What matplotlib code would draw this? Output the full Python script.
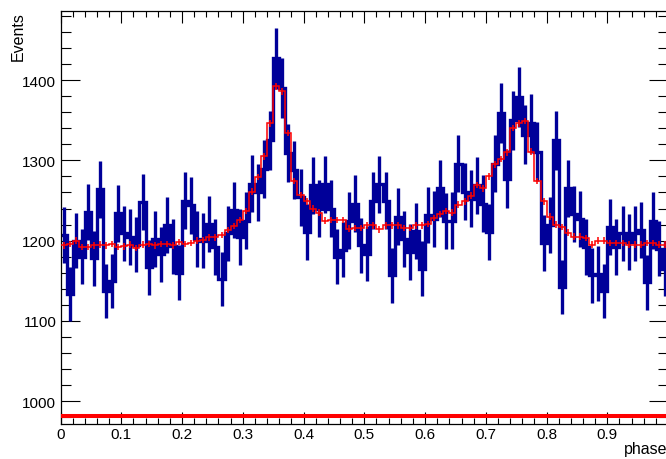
import numpy as np
import matplotlib
matplotlib.use("Agg")
import matplotlib.pyplot as plt
from matplotlib.ticker import MultipleLocator

plt.rcParams['font.family'] = ['Liberation Sans', 'DejaVu Sans']

# phase binning: 100 bins on [0, 1]
n_bins = 100
bin_edges = np.linspace(0.0, 1.0, n_bins + 1)
bin_centers = 0.5 * (bin_edges[:-1] + bin_edges[1:])

counts = [1207, 1134, 1200, 1180, 1236, 1178, 1264, 1137, 1150, 1234,
          1209, 1205, 1195, 1248, 1167, 1202, 1183, 1219, 1193, 1160,
          1250, 1244, 1202, 1200, 1221, 1192, 1152, 1209, 1238, 1205,
          1225, 1271, 1260, 1289, 1325, 1427, 1390, 1309, 1288, 1254,
          1211, 1269, 1240, 1270, 1240, 1180, 1189, 1225, 1246, 1194,
          1184, 1250, 1270, 1250, 1157, 1230, 1202, 1186, 1212, 1165,
          1232, 1227, 1265, 1224, 1225, 1296, 1261, 1252, 1269, 1246,
          1211, 1296, 1359, 1277, 1350, 1379, 1332, 1346, 1311, 1197,
          1219, 1325, 1142, 1265, 1233, 1227, 1192, 1157, 1159, 1137,
          1217, 1192, 1209, 1198, 1209, 1213, 1148, 1225, 1190, 1165]

# model / template (red)
model = [1194, 1196, 1200, 1192, 1192, 1194, 1195, 1194, 1196, 1192,
         1193, 1195, 1191, 1195, 1196, 1194, 1196, 1196, 1194, 1198,
         1196, 1197, 1200, 1201, 1204, 1204, 1207, 1213, 1218, 1226,
         1237, 1261, 1279, 1305, 1346, 1392, 1386, 1334, 1274, 1257,
         1249, 1240, 1235, 1225, 1226, 1226, 1226, 1215, 1216, 1216,
         1219, 1219, 1214, 1219, 1219, 1219, 1216, 1216, 1219, 1219,
         1221, 1228, 1233, 1237, 1235, 1245, 1249, 1256, 1269, 1265,
         1280, 1295, 1302, 1310, 1340, 1346, 1349, 1311, 1274, 1249,
         1230, 1220, 1217, 1210, 1205, 1205, 1203, 1195, 1200, 1200,
         1197, 1197, 1197, 1195, 1195, 1195, 1197, 1197, 1195, 1195]
model_err = 4.0

baseline = 981.5

counts = np.array(counts, dtype=float)
model = np.array(model, dtype=float)

fig = plt.figure(figsize=(6.66, 4.60), dpi=100)
ax = fig.add_axes([60.5 / 666, 35 / 460, 607.6 / 666, 413 / 460])

blue = '#000099'
# thick histogram line + poisson error bars
ax.stairs(counts, bin_edges, color=blue, lw=2.4, baseline=None, zorder=2)
ax.errorbar(bin_centers, counts, yerr=np.sqrt(counts), fmt='none',
            ecolor=blue, elinewidth=2.4, capsize=0, zorder=2)

# model
ax.stairs(model, bin_edges, color='red', lw=1.1, baseline=None, zorder=3)
ax.errorbar(bin_centers, model, yerr=model_err, fmt='none',
            ecolor='red', elinewidth=1.1, capsize=0, zorder=3)

ax.axhline(baseline, color='red', lw=2.9, zorder=4)

ax.set_xlim(0, 1)
ax.set_ylim(971.7, 1486)

ax.set_xticks(np.arange(0, 0.95, 0.1))
ax.set_xticklabels(['0'] + ['%.1f' % v for v in np.arange(0.1, 0.95, 0.1)])
ax.xaxis.set_minor_locator(MultipleLocator(0.02))
ax.set_yticks([1000, 1100, 1200, 1300, 1400])
ax.yaxis.set_minor_locator(MultipleLocator(20))

ax.tick_params(axis='x', which='major', direction='in', length=8.6, width=0.8,
               top=True, labelsize=11, pad=2)
ax.tick_params(axis='x', which='minor', direction='in', length=4.3, width=0.8, top=True)
ax.tick_params(axis='y', which='major', direction='in', length=14, width=0.8,
               right=True, labelsize=11, pad=3)
ax.tick_params(axis='y', which='minor', direction='in', length=7, width=0.8, right=True)
for s in ax.spines.values():
    s.set_linewidth(0.9)

fig.text(18.5 / 666, 1 - 12.5 / 460, 'Events', rotation=90, ha='center', va='top', fontsize=11.5)
fig.text(667 / 666, 5.5 / 460, 'phase', ha='right', va='baseline', fontsize=11.5)

fig.savefig('out.png', dpi=100)
